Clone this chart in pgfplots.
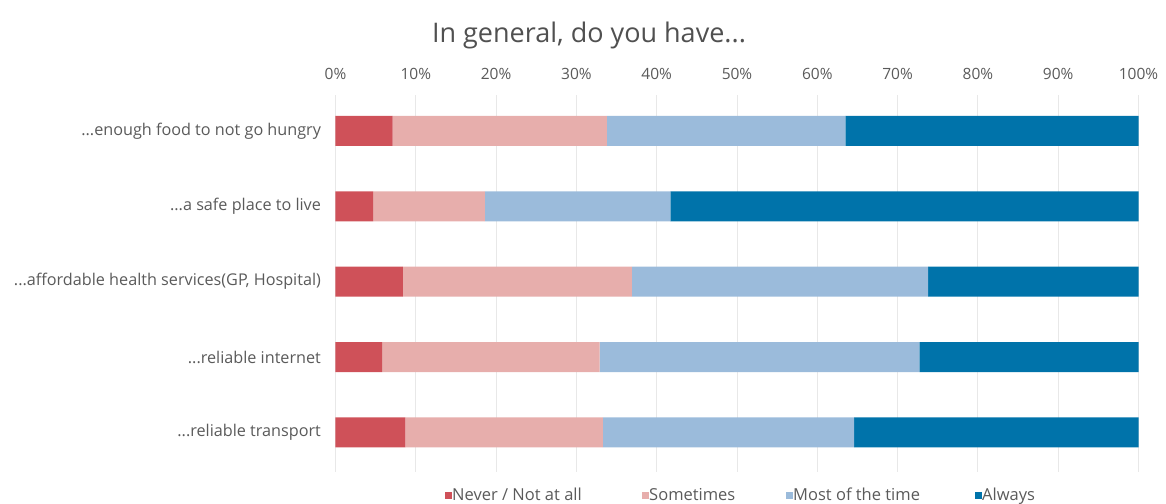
\documentclass[border=0pt]{standalone}
\usepackage{pgfplots}
\pgfplotsset{compat=1.18}
\usepackage{fontspec}
\setmainfont{Open Sans}
\newcommand{\dd}{...}
\definecolor{cNever}{HTML}{CF5159}
\definecolor{cSome}{HTML}{E7AEAC}
\definecolor{cMost}{HTML}{9BBBDB}
\definecolor{cAlways}{HTML}{0073AA}
\definecolor{gridc}{HTML}{E8E8E8}
\definecolor{labc}{HTML}{5A5A5A}
\definecolor{titc}{HTML}{505050}
\begin{document}
\begin{tikzpicture}
\useasboundingbox (-335.5pt,-31pt) rectangle (830.5pt,472pt);
\begin{axis}[
  at={(0pt,0pt)}, anchor=south west,
  scale only axis, width=803pt, height=377pt,
  xbar stacked, bar width=30pt,
  xmin=0, xmax=100, ymin=-0.524, ymax=4.476,
  ytick={0,1,2,3,4},
  yticklabels={{\dd reliable transport},{\dd reliable internet},{\dd affordable health services(GP, Hospital)},{\dd a safe place to live},{\dd enough food to not go hungry}},
  yticklabel style={font=\fontsize{16.2}{19}\selectfont, xshift=-11pt},
  xtick={0,10,20,30,40,50,60,70,80,90,100},
  xticklabel={\pgfmathprintnumber{\tick}\%},
  xticklabel pos=upper,
  xticklabel style={font=\fontsize{15.5}{18}\selectfont, yshift=11.5pt},
  axis line style={draw=none},
  major tick length=0pt,
  xmajorgrids, grid style={draw=gridc, line width=0.9pt},
  tick label style={text=labc},
  /pgf/number format/assume math mode=true,
  legend columns=4,
  legend style={at={(axis description cs:0.1364,-0.062)}, anchor=west, draw=none, fill=none,
    font=\fontsize{16.5}{19}\selectfont, text=labc, inner sep=0pt,
    /tikz/every even column/.append style={column sep=0pt},
    /tikz/every odd column/.append style={column sep=-2pt}},
  legend image code/.code={\path[#1, draw=none] (0pt,-3.5pt) rectangle (7pt,3.5pt);},
]
\addplot[fill=cNever, draw=none] coordinates {(8.7,0) (5.8,1) (8.4,2) (4.7,3) (7.1,4)};
\addplot[fill=cSome, draw=none] coordinates {(24.6,0) (27.1,1) (28.5,2) (13.9,3) (26.7,4)};
\addplot[fill=cMost, draw=none] coordinates {(31.3,0) (39.8,1) (36.9,2) (23.1,3) (29.7,4)};
\addplot[fill=cAlways, draw=none] coordinates {(35.4,0) (27.3,1) (26.2,2) (58.3,3) (36.5,4)};
\legend{\makebox[188pt][l]{Never / Not at all},\makebox[135pt][l]{Sometimes},\makebox[180pt][l]{Most of the time},Always}
\end{axis}
\node[font=\fontsize{27}{32}\selectfont, text=titc] at (253.5pt,437pt) {In general, do you have...};
\end{tikzpicture}
\end{document}
